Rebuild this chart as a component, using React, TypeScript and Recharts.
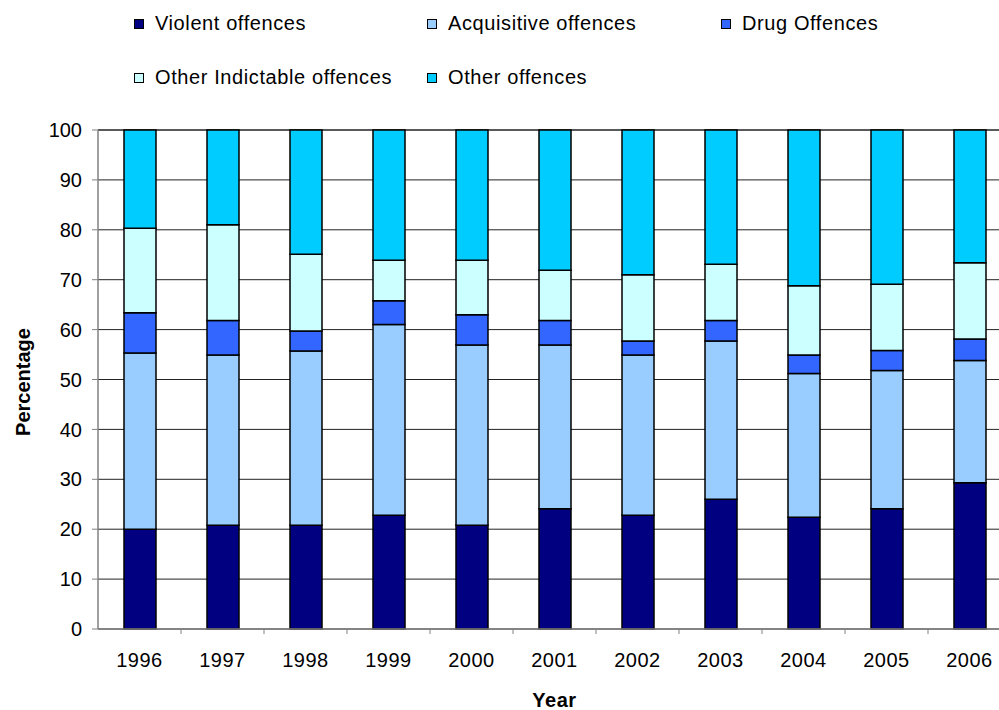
import { BarChart, Bar, XAxis, YAxis, CartesianGrid } from 'recharts';

const years = ['1996', '1997', '1998', '1999', '2000', '2001', '2002', '2003', '2004', '2005', '2006'];
const violent = [20.0, 20.8, 20.8, 22.8, 20.8, 24.1, 22.8, 26.0, 22.4, 24.1, 29.3];
const acquisitive = [35.3, 34.1, 34.9, 38.2, 36.1, 32.8, 32.1, 31.7, 28.8, 27.7, 24.5];
const drug = [8.1, 6.9, 4.0, 4.8, 6.1, 4.9, 2.8, 4.1, 3.7, 4.0, 4.3];
const otherIndictable = [16.9, 19.2, 15.4, 8.1, 10.9, 10.1, 13.3, 11.3, 13.9, 13.3, 15.3];
const other = [19.7, 19.0, 24.9, 26.1, 26.1, 28.1, 29.0, 26.9, 31.2, 30.9, 26.6];
const yTicks = [0, 10, 20, 30, 40, 50, 60, 70, 80, 90, 100];

const series = [
  { key: 'violent', name: 'Violent offences', color: '#000080' },
  { key: 'acquisitive', name: 'Acquisitive offences', color: '#99CCFF' },
  { key: 'drug', name: 'Drug Offences', color: '#3366FF' },
  { key: 'otherIndictable', name: 'Other Indictable offences', color: '#CCFFFF' },
  { key: 'other', name: 'Other offences', color: '#00CCFF' },
];

const data = years.map((year, i) => ({
  year,
  violent: violent[i],
  acquisitive: acquisitive[i],
  drug: drug[i],
  otherIndictable: otherIndictable[i],
  other: other[i],
}));

const FONT = '"Liberation Sans", Arial, sans-serif';
// the original picture is cropped: the plot runs a little past the right edge
const CHART_W = 1011;
const PLOT_LEFT = 98;
const BAND = (CHART_W - PLOT_LEFT) / years.length;

// legend item positions, two rows like the Excel original
const legendPos = [
  { left: 134, top: 12 },
  { left: 427, top: 12 },
  { left: 721, top: 12 },
  { left: 134, top: 66 },
  { left: 427, top: 66 },
];

function LegendBox() {
  return (
    <div style={{ position: 'absolute', left: 0, top: 0, width: 999, height: 100 }}>
      {series.map((s, i) => (
        <div
          key={s.key}
          style={{
            position: 'absolute',
            left: legendPos[i].left,
            top: legendPos[i].top,
            display: 'flex',
            alignItems: 'center',
            fontFamily: FONT,
            fontSize: 20,
            letterSpacing: 0.6,
            lineHeight: '23px',
            color: '#000',
            whiteSpace: 'nowrap',
          }}
        >
          <span
            style={{
              display: 'inline-block',
              width: 8,
              height: 8,
              background: s.color,
              border: '1px solid #000',
              marginRight: 11,
            }}
          />
          {s.name}
        </div>
      ))}
    </div>
  );
}

function YearTick(props: any) {
  const { x, y, payload, index } = props;
  const left = x - BAND / 2;
  return (
    <g>
      {index > 0 && <line x1={left} y1={y - 8} x2={left} y2={y - 3} stroke="#808080" strokeWidth={1} />}
      {index === years.length - 1 && (
        <line x1={x + BAND / 2} y1={y - 8} x2={x + BAND / 2} y2={y - 3} stroke="#808080" strokeWidth={1} />
      )}
      <text x={x} y={y + 30} textAnchor="middle" fontFamily={FONT} fontSize={20} letterSpacing={0.5} fill="#000">
        {payload.value}
      </text>
    </g>
  );
}

function PercentLabel() {
  return (
    <text
      transform="translate(30,382) rotate(-90)"
      textAnchor="middle"
      fontFamily={FONT}
      fontSize={20}
      fontWeight="bold"
      fill="#000"
    >
      Percentage
    </text>
  );
}

export default function App() {
  return (
    <div
      style={{
        position: 'absolute',
        left: 0,
        top: 0,
        width: 999,
        height: 710,
        overflow: 'hidden',
        background: '#fff',
      }}
    >
      <BarChart
        width={CHART_W}
        height={710}
        data={data}
        margin={{ top: 130, right: 0, bottom: 0, left: 38 }}
        barSize={32}
      >
        <CartesianGrid vertical={false} stroke="#222" strokeWidth={1} />
        <XAxis
          dataKey="year"
          height={81}
          axisLine={{ stroke: '#808080', strokeWidth: 1.5 }}
          tickLine={false}
          tick={<YearTick />}
          interval={0}
          label={{
            value: 'Year',
            position: 'insideBottom',
            offset: 3,
            style: { fontFamily: FONT, fontSize: 20, fontWeight: 'bold', fill: '#000', letterSpacing: 0.5 },
          }}
        />
        <YAxis
          width={60}
          domain={[0, 100]}
          ticks={yTicks}
          interval={0}
          axisLine={{ stroke: '#808080', strokeWidth: 1.5 }}
          tickLine={{ stroke: '#808080' }}
          tickSize={6}
          tickMargin={10}
          tick={{ fontFamily: FONT, fontSize: 20, fill: '#000' }}
          label={{ content: () => <PercentLabel /> }}
        />
        {series.map((s) => (
          <Bar
            key={s.key}
            dataKey={s.key}
            name={s.name}
            stackId="a"
            fill={s.color}
            stroke="#000"
            strokeWidth={1.5}
            isAnimationActive={false}
          />
        ))}
      </BarChart>
      <LegendBox />
    </div>
  );
}
